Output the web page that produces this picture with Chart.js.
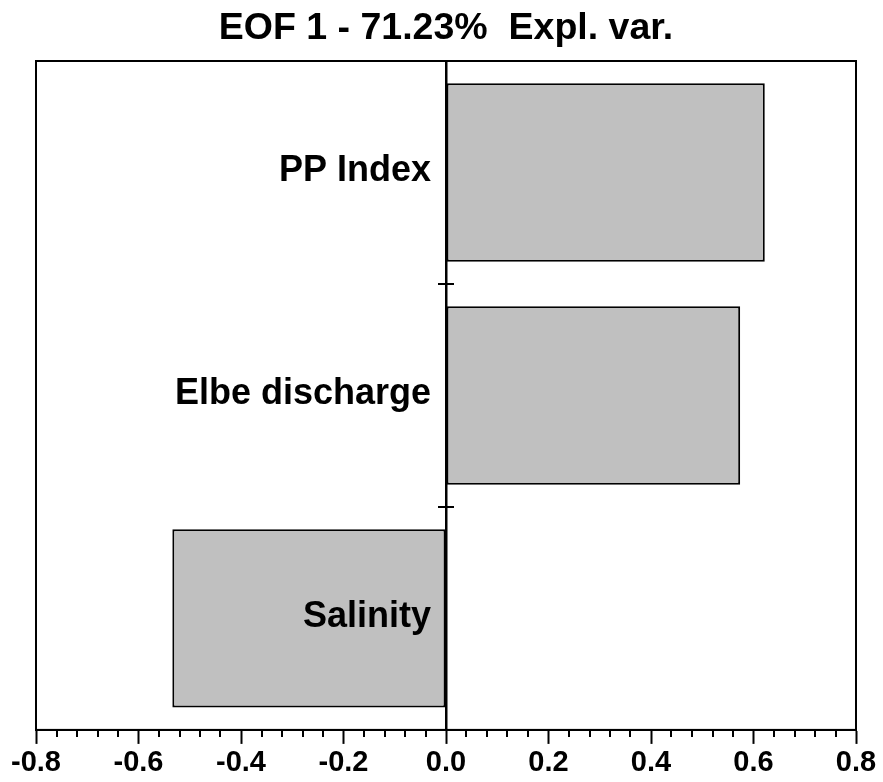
<!DOCTYPE html>
<html>
<head>
<meta charset="utf-8">
<script src="https://cdn.jsdelivr.net/npm/chart.js@4.4.1/dist/chart.umd.min.js"></script>
<style>
  html, body { margin: 0; padding: 0; background: #fff; }
  #wrap { width: 883px; height: 782px; }
</style>
</head>
<body>
<div id="wrap"><canvas id="myChart"></canvas></div>
<script>
const ctx = document.getElementById('myChart').getContext('2d');
const FONT = '"Liberation Sans", Arial, sans-serif';

const categories = ['PP Index', 'Elbe discharge', 'Salinity'];
const loadings = [0.622, 0.574, -0.534];
const xRange = [-0.8, 0.8];
const majorStep = 0.2;
const minorStep = 0.04;

// frame, minor ticks on x, category ticks on the zero line, category names over the bars
const decorations = {
  id: 'decorations',
  afterDatasetsDraw(chart) {
    const { ctx, scales: { x, y } } = chart;
    const x0 = x.getPixelForValue(0);
    ctx.save();
    ctx.fillStyle = '#000';
    ctx.font = 'bold 36px ' + FONT;
    ctx.textAlign = 'right';
    ctx.textBaseline = 'middle';
    categories.forEach((c, i) => {
      ctx.fillText(c, x0 - 15, y.getPixelForValue(i) - 1);
    });
    ctx.restore();
  },
  afterDraw(chart) {
    const { ctx, chartArea: a, scales: { x, y } } = chart;
    ctx.save();
    ctx.strokeStyle = '#000';
    ctx.lineWidth = 2;
    ctx.strokeRect(a.left, a.top, a.right - a.left, a.bottom - a.top);

    const n = Math.round((xRange[1] - xRange[0]) / minorStep);
    const per = Math.round(majorStep / minorStep);
    ctx.beginPath();
    for (let i = 0; i <= n; i++) {
      if (i % per === 0) continue;
      const px = Math.round(x.getPixelForValue(xRange[0] + i * minorStep));
      ctx.moveTo(px, a.bottom);
      ctx.lineTo(px, a.bottom + 7);
    }
    ctx.stroke();

    const x0 = x.getPixelForValue(0);
    ctx.beginPath();
    for (let i = 1; i < categories.length; i++) {
      const py = Math.round((y.getPixelForValue(i - 1) + y.getPixelForValue(i)) / 2);
      ctx.moveTo(x0 - 8, py);
      ctx.lineTo(x0 + 8, py);
    }
    ctx.stroke();
    ctx.restore();
  }
};

const data = {
  labels: categories,
  datasets: [
    {
      label: 'EOF 1',
      data: loadings,
      backgroundColor: '#c0c0c0',
      borderColor: '#000',
      borderWidth: 2,
      borderSkipped: false,
      barPercentage: 0.8,
      categoryPercentage: 1
    }
  ]
};

const config = {
  type: 'bar',
  data: data,
  options: {
    indexAxis: 'y',
    responsive: true,
    maintainAspectRatio: false,
    animation: false,
    layout: { padding: { left: 36, right: 27, top: 0, bottom: 0 } },
    plugins: {
      legend: { display: false },
      tooltip: { enabled: false },
      title: {
        display: true,
        text: 'EOF 1 - 71.23%  Expl. var.',
        color: '#000',
        font: { family: FONT, size: 37.5, weight: 'bold' },
        padding: { top: 6, bottom: 10 }
      }
    },
    scales: {
      x: {
        min: xRange[0],
        max: xRange[1],
        ticks: {
          stepSize: majorStep,
          color: '#000',
          padding: 6,
          maxRotation: 0,
          font: { family: FONT, size: 29, weight: 'bold', lineHeight: 0.9 },
          callback: v => (Math.abs(v) < 1e-9 ? 0 : v).toFixed(1)
        },
        grid: { drawOnChartArea: false, tickLength: 14, tickWidth: 2, color: '#000' },
        border: { color: '#000', width: 2 }
      },
      y: {
        position: { x: 0 },
        ticks: { display: false },
        grid: { display: false, offset: true },
        border: { color: '#000', width: 2.5 }
      }
    }
  },
  plugins: [decorations]
};

const myChart = new Chart(ctx, config);
</script>
</body>
</html>
